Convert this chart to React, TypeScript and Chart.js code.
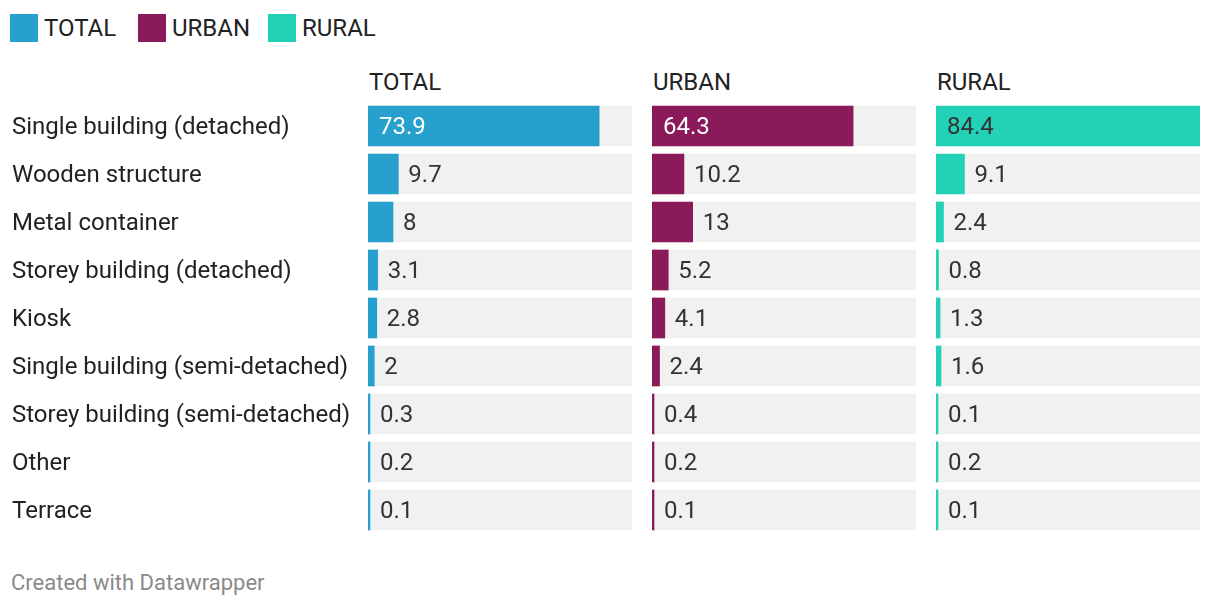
import React, { useEffect, useRef } from "react";
import { Chart, registerables } from "chart.js";

Chart.register(...registerables);

const categories = [
  "Single building (detached)",
  "Wooden structure",
  "Metal container",
  "Storey building (detached)",
  "Kiosk",
  "Single building (semi-detached)",
  "Storey building (semi-detached)",
  "Other",
  "Terrace",
];
const totalValues = [73.9, 9.7, 8, 3.1, 2.8, 2, 0.3, 0.2, 0.1];
const urbanValues = [64.3, 10.2, 13, 5.2, 4.1, 2.4, 0.4, 0.2, 0.1];
const ruralValues = [84.4, 9.1, 2.4, 0.8, 1.3, 1.6, 0.1, 0.2, 0.1];
const seriesNames = ["TOTAL", "URBAN", "RURAL"];
const seriesColors = ["#28a0cd", "#8a1a59", "#23d1b6"];
const insideLabelColors = ["#ffffff", "#ffffff", "#333333"];
const scaleMax = 84.4;

const FONT = "Roboto, 'Noto Sans', sans-serif";
const FS = 24;
const TEXT = "#222222";
const LABEL_AREA = 356;

const valueLabelPlugin = {
  id: "valueLabels",
  afterDatasetsDraw(chart: any, _args: any, opts: any) {
    const ctx = chart.ctx;
    const meta = chart.getDatasetMeta(0);
    const data = chart.data.datasets[0].data as number[];
    ctx.save();
    ctx.font = `${FS}px ${FONT}`;
    ctx.textBaseline = "middle";
    ctx.textAlign = "left";
    meta.data.forEach((bar: any, i: number) => {
      const txt = String(data[i]);
      const w = ctx.measureText(txt).width;
      const start = Math.min(bar.base, bar.x);
      const end = Math.max(bar.base, bar.x);
      if (end - start > w + 24) {
        ctx.fillStyle = opts.insideColor;
        ctx.fillText(txt, start + 11, bar.y + 2);
      } else {
        ctx.fillStyle = "#333333";
        ctx.fillText(txt, end + 10, bar.y + 2);
      }
    });
    if (opts.showLabels) {
      ctx.fillStyle = TEXT;
      const y = chart.scales.y;
      chart.data.labels.forEach((lab: string, i: number) => {
        ctx.fillText(lab, 0, y.getPixelForValue(i) + 2);
      });
    }
    ctx.restore();
  },
};

function Panel(props: {
  values: number[];
  color: string;
  insideColor: string;
  showLabels: boolean;
  left: number;
  width: number;
}) {
  const ref = useRef<HTMLCanvasElement>(null);
  useEffect(() => {
    if (!ref.current) return;
    const chart = new Chart(ref.current, {
      type: "bar",
      data: {
        labels: categories,
        datasets: [
          {
            data: props.values,
            backgroundColor: props.color,
            barThickness: 40,
            grouped: false,
            minBarLength: 2,
          } as any,
          {
            data: categories.map(() => scaleMax),
            backgroundColor: "#f1f1f1",
            barThickness: 40,
            grouped: false,
          } as any,
        ],
      },
      options: {
        indexAxis: "y",
        animation: false,
        responsive: true,
        maintainAspectRatio: false,
        layout: {
          padding: { left: props.showLabels ? LABEL_AREA : 0, right: 0, top: 0, bottom: 0 },
        },
        events: [],
        plugins: {
          legend: { display: false },
          tooltip: { enabled: false },
          valueLabels: { insideColor: props.insideColor, showLabels: props.showLabels },
        } as any,
        scales: {
          x: { display: false, min: 0, max: scaleMax },
          y: { display: false, offset: true } as any,
        },
      },
      plugins: [valueLabelPlugin],
    });
    return () => chart.destroy();
  }, []);
  return (
    <div
      style={{
        position: "absolute",
        left: props.left,
        top: 102,
        width: props.width,
        height: 432,
      }}
    >
      <canvas ref={ref} />
    </div>
  );
}

export default function App() {
  const panelLefts = [368, 652, 936];
  const allValues = [totalValues, urbanValues, ruralValues];
  const legendLefts = [10, 138, 268];
  return (
    <div
      style={{
        position: "absolute",
        left: 0,
        top: 0,
        width: 1220,
        height: 608,
        background: "#ffffff",
        fontFamily: FONT,
        color: TEXT,
      }}
    >
      {seriesNames.map((n, i) => (
        <div
          key={"lg" + n}
          style={{
            position: "absolute",
            left: legendLefts[i],
            top: 14,
            height: 28,
            display: "flex",
            alignItems: "center",
            whiteSpace: "nowrap",
          }}
        >
          <div style={{ width: 28, height: 28, background: seriesColors[i] }} />
          <span style={{ marginLeft: 6, fontSize: FS, lineHeight: "28px" }}>{n}</span>
        </div>
      ))}
      {seriesNames.map((n, i) => (
        <div
          key={"hd" + n}
          style={{
            position: "absolute",
            left: panelLefts[i] + 1,
            top: 69,
            fontSize: FS,
            lineHeight: "26px",
            whiteSpace: "nowrap",
          }}
        >
          {n}
        </div>
      ))}
      {seriesNames.map((n, i) => (
        <Panel
          key={"p" + n}
          values={allValues[i]}
          color={seriesColors[i]}
          insideColor={insideLabelColors[i]}
          showLabels={i === 0}
          left={i === 0 ? 12 : panelLefts[i]}
          width={i === 0 ? 620 : 264}
        />
      ))}
      <div
        style={{
          position: "absolute",
          left: 11,
          top: 570,
          fontSize: 22,
          lineHeight: "26px",
          color: "#8a8a8a",
          whiteSpace: "nowrap",
        }}
      >
        Created with Datawrapper
      </div>
    </div>
  );
}
